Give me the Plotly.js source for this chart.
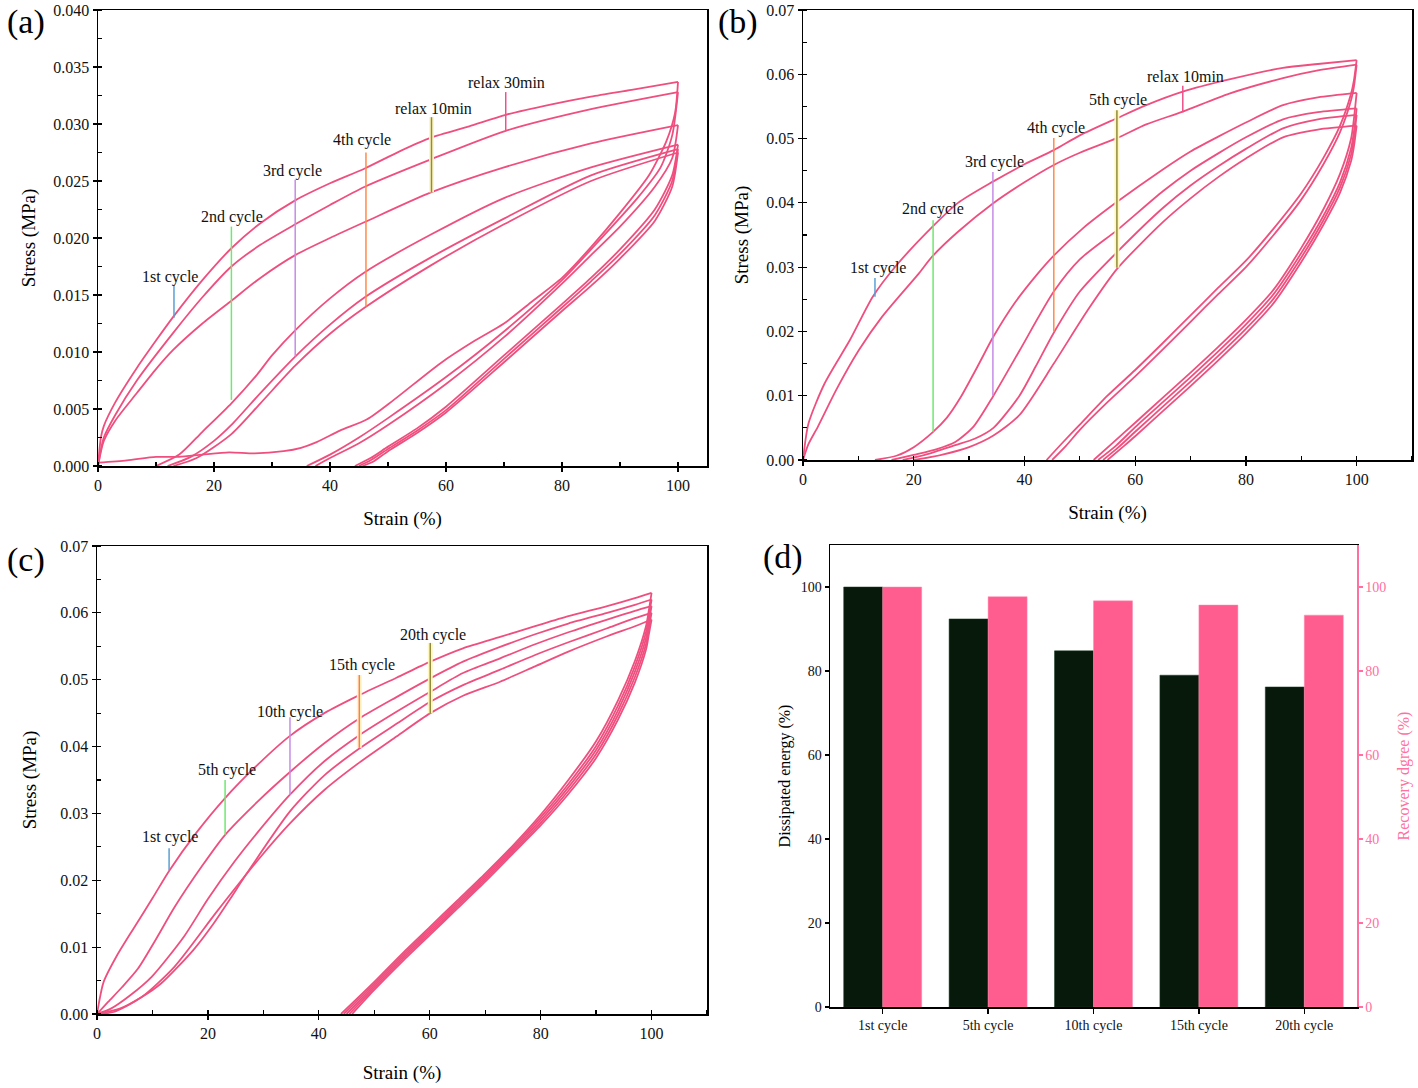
<!DOCTYPE html>
<html>
<head>
<meta charset="utf-8">
<script src="https://cdn.plot.ly/plotly-3.0.1.min.js"></script>
<style>html,body{margin:0;padding:0;background:#fff;}#chart{width:1418px;height:1088px;}</style>
</head>
<body>
<div id="chart"></div>
<script>
// ---------------- Panel (a) data ----------------
const aCyc1LoadStrain   = [0, 0.5, 1, 3, 6.7, 10, 13, 18, 23, 28, 34, 40, 46, 52, 57.4, 64, 70.3, 78, 85, 92, 100];
const aCyc1LoadStress   = [0, 0.0025, 0.0035, 0.0056, 0.0086, 0.0110, 0.0131, 0.0163, 0.0191, 0.0213, 0.0233, 0.0248, 0.0261, 0.0276, 0.0288, 0.0298, 0.0308, 0.0317, 0.0324, 0.0330, 0.0337];
const aCyc1UnloadStrain = [100, 99.5, 98, 95, 90, 85, 80, 75, 70, 65, 59, 51, 46.4, 41.7, 37.7, 35, 32, 27, 22.6, 18, 14, 10, 5, 0];
const aCyc1UnloadStress = [0.0337, 0.0310, 0.0285, 0.0255, 0.0222, 0.0192, 0.0165, 0.0145, 0.0125, 0.0110, 0.0090, 0.0058, 0.0041, 0.0031, 0.0021, 0.0016, 0.0013, 0.0011, 0.0012, 0.0010, 0.0008, 0.0008, 0.0005, 0.0003];
const aR30LoadStrain    = [0, 1, 3, 6.7, 13, 18, 23, 28, 34, 40, 46, 57.4, 70.3, 85, 100];
const aR30LoadStress    = [0, 0.0025, 0.0045, 0.0075, 0.0117, 0.0148, 0.0175, 0.0194, 0.0212, 0.0229, 0.0245, 0.0269, 0.0294, 0.0313, 0.0328];
const aR30UnloadStrain  = [100, 99, 97, 93, 85, 80, 70, 60, 50, 45, 40, 36];
const aR30UnloadStress  = [0.0328, 0.0290, 0.0262, 0.0235, 0.0190, 0.0163, 0.0118, 0.0078, 0.0042, 0.0025, 0.0010, 0];
const aR10LoadStrain    = [0, 1, 3, 6.7, 10, 13, 18, 23, 28, 34, 40, 46, 57.4, 70, 85, 100];
const aR10LoadStress    = [0, 0.0022, 0.0040, 0.0064, 0.0085, 0.0102, 0.0125, 0.0145, 0.0165, 0.0185, 0.0200, 0.0214, 0.0240, 0.0262, 0.0283, 0.0299];
const aR10UnloadStrain  = [100, 99, 96, 90, 85, 80, 70, 60, 50, 45, 40, 37.5];
const aR10UnloadStress  = [0.0299, 0.0270, 0.0245, 0.0210, 0.0185, 0.0160, 0.0113, 0.0072, 0.0036, 0.0020, 0.0007, 0];
const aCyc2LoadStrain   = [10, 14, 18, 23, 27.4, 30, 34, 40, 46, 57.4, 70, 85, 100];
const aCyc2LoadStress   = [0, 0.0010, 0.0030, 0.0055, 0.0080, 0.0097, 0.0119, 0.0147, 0.0170, 0.0203, 0.0235, 0.0262, 0.0282];
const aCyc2UnloadStrain = [100, 99, 96, 90, 85, 80, 70, 60, 55, 50, 47, 44.3];
const aCyc2UnloadStress = [0.0282, 0.0255, 0.0225, 0.0190, 0.0165, 0.0142, 0.0097, 0.0052, 0.0033, 0.0017, 0.0007, 0];
const aCyc3LoadStrain   = [12, 16, 20, 23, 28, 34, 40, 46, 57.4, 70, 85, 100];
const aCyc3LoadStress   = [0, 0.0008, 0.0022, 0.0036, 0.0064, 0.0096, 0.0124, 0.0148, 0.0183, 0.0217, 0.0255, 0.0278];
const aCyc3UnloadStrain = [100, 99, 96, 90, 85, 80, 70, 60, 55, 50, 47, 45];
const aCyc3UnloadStress = [0.0278, 0.0250, 0.0220, 0.0186, 0.0162, 0.0139, 0.0094, 0.0049, 0.0031, 0.0015, 0.0005, 0];
const aCyc4LoadStrain   = [13, 17, 23, 28, 34, 40, 46, 57.4, 70, 85, 100];
const aCyc4LoadStress   = [0, 0.0007, 0.0028, 0.0055, 0.0088, 0.0116, 0.0139, 0.0176, 0.0212, 0.0250, 0.0275];
const aCyc4UnloadStrain = [100, 99, 96, 90, 85, 80, 70, 60, 55, 50, 47.5, 45.6];
const aCyc4UnloadStress = [0.0275, 0.0245, 0.0215, 0.0182, 0.0158, 0.0136, 0.0091, 0.0047, 0.0029, 0.0013, 0.0004, 0];
const aLabelText   = ['1st cycle', '2nd cycle', '3rd cycle', '4th cycle', 'relax 10min', 'relax 30min'];
const aLabelX      = [12.4, 23.1, 33.6, 45.5, 57.9, 70.5];
const aLabelY      = [0.0166, 0.0218, 0.0259, 0.0286, 0.0314, 0.0336];
const aMarkX       = [13.1, 23, 34, 46.2, 57.5, 70.3];
const aMarkTop     = [0.0159, 0.0210, 0.0251, 0.0275, 0.0306, 0.0328];
const aMarkBottom  = [0.0130, 0.0058, 0.0096, 0.0140, 0.0240, 0.0294];
const aMarkColor   = ['#5b9fd4', '#6fe86f', '#c58ce6', '#ff8a4c', '#8f8c3c', '#f0508a'];
const aMarkGlow    = [false, false, false, false, true, false];

// ---------------- Panel (b) data ----------------
const bCyc1LoadStrain   = [0, 1, 3.9, 8.5, 12.6, 16.7, 23.4, 28, 34.3, 40, 45.3, 50, 56.8, 62, 68.6, 77, 86.7, 93, 100];
const bCyc1LoadStress   = [0, 0.0057, 0.0119, 0.0187, 0.0254, 0.0301, 0.0363, 0.0400, 0.0433, 0.0460, 0.0482, 0.0505, 0.0532, 0.0552, 0.0573, 0.0592, 0.0610, 0.0616, 0.0622];
const bCyc1UnloadStrain = [100, 99.5, 99, 97, 94, 90, 85, 80, 75, 70, 65, 60, 55, 50, 47, 44];
const bCyc1UnloadStress = [0.0622, 0.0590, 0.0570, 0.0520, 0.0470, 0.0415, 0.0360, 0.0310, 0.0268, 0.0225, 0.0182, 0.0140, 0.0100, 0.0055, 0.0028, 0];
const bR10LoadStrain    = [0, 1, 2.7, 6, 10.1, 14.3, 20.9, 23.4, 28, 34.3, 40, 45.3, 50, 56.8, 62, 68.6, 77, 86.7, 93, 100];
const bR10LoadStress    = [0, 0.0025, 0.0052, 0.0109, 0.0171, 0.0223, 0.0290, 0.0317, 0.0355, 0.0399, 0.0432, 0.0459, 0.0478, 0.0501, 0.0522, 0.0542, 0.0570, 0.0594, 0.0606, 0.0615];
const bR10UnloadStrain  = [100, 99.5, 99, 97, 94, 90, 85, 80, 75, 70, 65, 60, 55, 50, 47.5, 45];
const bR10UnloadStress  = [0.0615, 0.0580, 0.0560, 0.0510, 0.0460, 0.0405, 0.0350, 0.0300, 0.0258, 0.0215, 0.0172, 0.0130, 0.0090, 0.0047, 0.0022, 0];
const bCyc2LoadStrain   = [13, 17, 20, 23.4, 26, 28.5, 31.5, 34.4, 38.3, 42.4, 45.3, 50.5, 56.8, 65, 70, 75, 80, 86.7, 93, 100];
const bCyc2LoadStress   = [0, 0.0007, 0.0020, 0.0043, 0.0066, 0.0098, 0.0145, 0.0192, 0.0245, 0.0290, 0.0318, 0.0360, 0.0402, 0.0452, 0.0480, 0.0503, 0.0525, 0.0552, 0.0564, 0.0571];
const bCyc2UnloadStrain = [100, 99.5, 99, 97, 94, 90, 85, 80, 75, 70, 65, 60, 56, 52.5];
const bCyc2UnloadStress = [0.0571, 0.0530, 0.0500, 0.0445, 0.0390, 0.0330, 0.0265, 0.0218, 0.0176, 0.0136, 0.0097, 0.0058, 0.0027, 0];
const bCyc3LoadStrain   = [16, 20, 24.2, 27.5, 30.8, 34.4, 39.1, 45.3, 50, 56.8, 65, 70, 75, 80, 86.7, 93, 100];
const bCyc3LoadStress   = [0, 0.0008, 0.0017, 0.0028, 0.0052, 0.0100, 0.0170, 0.0262, 0.0312, 0.0358, 0.0418, 0.0450, 0.0477, 0.0502, 0.0530, 0.0541, 0.0547];
const bCyc3UnloadStrain = [100, 99.5, 99, 97, 94, 90, 85, 80, 75, 70, 65, 60, 56.5, 53.3];
const bCyc3UnloadStress = [0.0547, 0.0510, 0.0485, 0.0432, 0.0380, 0.0322, 0.0258, 0.0211, 0.0169, 0.0129, 0.0090, 0.0051, 0.0022, 0];
const bCyc4LoadStrain   = [18, 22, 27.5, 31, 34.4, 39.1, 42, 45.3, 50, 56.8, 65, 70, 75, 80, 86.7, 93, 100];
const bCyc4LoadStress   = [0, 0.0008, 0.0023, 0.0033, 0.0050, 0.0100, 0.0145, 0.0198, 0.0262, 0.0324, 0.0392, 0.0427, 0.0457, 0.0484, 0.0516, 0.0530, 0.0537];
const bCyc4UnloadStrain = [100, 99.5, 99, 97, 94, 90, 85, 80, 75, 70, 65, 60, 57, 54.2];
const bCyc4UnloadStress = [0.0537, 0.0500, 0.0475, 0.0424, 0.0373, 0.0315, 0.0251, 0.0204, 0.0162, 0.0122, 0.0083, 0.0044, 0.0020, 0];
const bCyc5LoadStrain   = [20, 25, 30, 34.4, 39.1, 45.3, 51.5, 56.8, 65, 70, 75, 80, 86.7, 93, 100];
const bCyc5LoadStress   = [0, 0.0008, 0.0020, 0.0038, 0.0070, 0.0150, 0.0234, 0.0298, 0.0370, 0.0407, 0.0440, 0.0469, 0.0502, 0.0514, 0.0520];
const bCyc5UnloadStrain = [100, 99.5, 99, 97, 94, 90, 85, 80, 75, 70, 65, 60, 58, 55];
const bCyc5UnloadStress = [0.0520, 0.0487, 0.0465, 0.0416, 0.0366, 0.0308, 0.0244, 0.0197, 0.0155, 0.0115, 0.0076, 0.0037, 0.0022, 0];
const bLabelText  = ['1st cycle', '2nd cycle', '3rd cycle', '4th cycle', '5th cycle', 'relax 10min'];
const bLabelX     = [13.5, 23.5, 34.5, 45.7, 56.9, 69];
const bLabelY     = [0.0299, 0.0390, 0.0464, 0.0516, 0.0560, 0.0596];
const bMarkX      = [13.0, 23.5, 34.3, 45.3, 56.7, 68.6];
const bMarkTop    = [0.0283, 0.0373, 0.0448, 0.0501, 0.0544, 0.0582];
const bMarkBottom = [0.0254, 0.0044, 0.0100, 0.0200, 0.0299, 0.0541];
const bMarkColor  = ['#5b9fd4', '#6fe86f', '#c58ce6', '#ff8a4c', '#8f8c3c', '#f0508a'];
const bMarkGlow   = [false, false, false, false, true, false];

// ---------------- Panel (c) data ----------------
const cCyc1LoadStrain   = [0, 1.2, 3.5, 6.6, 10, 13, 18, 23.1, 29, 34.8, 41, 47.3, 54, 60.1, 66, 72.7, 79, 85, 92, 97, 100];
const cCyc1LoadStress   = [0, 0.0048, 0.0086, 0.0128, 0.0173, 0.0214, 0.0272, 0.0323, 0.0373, 0.0416, 0.0450, 0.0477, 0.0503, 0.0527, 0.0547, 0.0564, 0.0580, 0.0595, 0.0610, 0.0622, 0.0630];
const cCyc5LoadStrain   = [0, 2, 4.5, 7.4, 10.5, 14, 19, 23.1, 29, 34.8, 41, 47.3, 54, 60.1, 66, 72.7, 79, 85, 92, 97, 100];
const cCyc5LoadStress   = [0, 0.0018, 0.0040, 0.0068, 0.0110, 0.0160, 0.0222, 0.0268, 0.0318, 0.0362, 0.0405, 0.0442, 0.0474, 0.0502, 0.0527, 0.0549, 0.0568, 0.0584, 0.0600, 0.0612, 0.0620];
const cCyc10LoadStrain  = [0, 2.5, 6, 9.9, 15.7, 20, 24.8, 29, 34.8, 41, 47.3, 54, 60.1, 66, 72.7, 79, 85, 92, 97, 100];
const cCyc10LoadStress  = [0, 0.0008, 0.0028, 0.0056, 0.0116, 0.0172, 0.0228, 0.0272, 0.0328, 0.0378, 0.0417, 0.0452, 0.0482, 0.0510, 0.0532, 0.0553, 0.0571, 0.0590, 0.0603, 0.0610];
const cCyc15LoadStrain  = [0, 4.1, 8, 11.6, 17.4, 21, 24, 27, 34.8, 41, 47.3, 54, 60.1, 66, 72.7, 79, 85, 92, 97, 100];
const cCyc15LoadStress  = [0, 0.0008, 0.0025, 0.0046, 0.0096, 0.0135, 0.0172, 0.0210, 0.0303, 0.0357, 0.0397, 0.0434, 0.0467, 0.0492, 0.0515, 0.0537, 0.0556, 0.0577, 0.0592, 0.0600];
const cCyc20LoadStrain  = [0, 3, 8, 14, 21.5, 29, 34.8, 41, 47.3, 54, 60.1, 66, 72.7, 79, 85, 92, 97, 100];
const cCyc20LoadStress  = [0, 0.0003, 0.0025, 0.0071, 0.0152, 0.0230, 0.0285, 0.0335, 0.0376, 0.0415, 0.0450, 0.0476, 0.0497, 0.0520, 0.0542, 0.0565, 0.0580, 0.0590];
const cCyc1UnloadStrain  = [100, 99.5, 99, 97, 94, 90, 85, 80, 75, 70, 65, 60, 55, 50, 44];
const cCyc1UnloadStress  = [0.0630, 0.0603, 0.0580, 0.0528, 0.0470, 0.0408, 0.0350, 0.0298, 0.0252, 0.0210, 0.0170, 0.0130, 0.0090, 0.0048, 0];
const cCyc5UnloadStrain  = [100, 99.5, 99, 97, 94, 90, 85, 80, 75, 70, 65, 60, 55, 50, 44.5];
const cCyc5UnloadStress  = [0.0620, 0.0594, 0.0571, 0.0520, 0.0462, 0.0401, 0.0344, 0.0294, 0.0249, 0.0207, 0.0167, 0.0127, 0.0087, 0.0045, 0];
const cCyc10UnloadStrain = [100, 99.5, 99, 97, 94, 90, 85, 80, 75, 70, 65, 60, 55, 50, 45];
const cCyc10UnloadStress = [0.0610, 0.0585, 0.0562, 0.0512, 0.0455, 0.0395, 0.0339, 0.0290, 0.0246, 0.0204, 0.0164, 0.0124, 0.0084, 0.0042, 0];
const cCyc15UnloadStrain = [100, 99.5, 99, 97, 94, 90, 85, 80, 75, 70, 65, 60, 55, 50, 45.5];
const cCyc15UnloadStress = [0.0600, 0.0576, 0.0553, 0.0504, 0.0448, 0.0389, 0.0334, 0.0286, 0.0243, 0.0201, 0.0161, 0.0121, 0.0081, 0.0039, 0];
const cCyc20UnloadStrain = [100, 99.5, 99, 97, 94, 90, 85, 80, 75, 70, 65, 60, 55, 50, 46];
const cCyc20UnloadStress = [0.0590, 0.0567, 0.0545, 0.0496, 0.0441, 0.0383, 0.0329, 0.0282, 0.0240, 0.0198, 0.0158, 0.0118, 0.0078, 0.0036, 0];
const cLabelText  = ['1st cycle', '5th cycle', '10th cycle', '15th cycle', '20th cycle'];
const cLabelX     = [13.2, 23.5, 34.8, 47.8, 60.5];
const cLabelY     = [0.0265, 0.0365, 0.0452, 0.0522, 0.0567];
const cMarkX      = [13.0, 23.1, 34.8, 47.3, 60.1];
const cMarkTop    = [0.0248, 0.0350, 0.0444, 0.0507, 0.0555];
const cMarkBottom = [0.0215, 0.0268, 0.0328, 0.0398, 0.0450];
const cMarkColor  = ['#5b9fd4', '#6fe86f', '#c58ce6', '#ff7a5c', '#8f8c3c'];
const cMarkGlow   = [false, false, false, true, true];

// ---------------- Panel (d) data ----------------
const dCategories = ['1st cycle', '5th cycle', '10th cycle', '15th cycle', '20th cycle'];
const dDissipated = [100, 92.4, 84.8, 79.0, 76.2];
const dRecovery   = [100, 97.7, 96.7, 95.7, 93.3];

// ---------------- Styling ----------------
const CURVE = '#ef4f7f';
const SERIF = 'Liberation Serif, Times New Roman, serif';
const DARK = '#07190a';
const PINK = '#ff5c8f';
const RIGHTPINK = '#ff6f9f';

const traces = [];
function curve(xs, ys, xa, ya) {
  traces.push({type: 'scatter', mode: 'lines', x: xs, y: ys, xaxis: xa, yaxis: ya,
    line: {color: CURVE, width: 1.8, shape: 'spline', smoothing: 0.7}, hoverinfo: 'skip', showlegend: false});
}
function marks(xs, tops, bottoms, colors, glows, xa, ya) {
  for (let i = 0; i < xs.length; i++) {
    if (glows[i]) {
      traces.push({type: 'scatter', mode: 'lines', x: [xs[i], xs[i]], y: [tops[i], bottoms[i]], xaxis: xa, yaxis: ya,
        line: {color: 'rgba(255,245,190,0.95)', width: 5}, hoverinfo: 'skip', showlegend: false});
    }
    traces.push({type: 'scatter', mode: 'lines', x: [xs[i], xs[i]], y: [tops[i], bottoms[i]], xaxis: xa, yaxis: ya,
      line: {color: colors[i], width: 1.5}, hoverinfo: 'skip', showlegend: false});
  }
}

// (a)
[[aCyc1LoadStrain, aCyc1LoadStress], [aCyc1UnloadStrain, aCyc1UnloadStress],
 [aR30LoadStrain, aR30LoadStress], [aR30UnloadStrain, aR30UnloadStress],
 [aR10LoadStrain, aR10LoadStress], [aR10UnloadStrain, aR10UnloadStress],
 [aCyc2LoadStrain, aCyc2LoadStress], [aCyc2UnloadStrain, aCyc2UnloadStress],
 [aCyc3LoadStrain, aCyc3LoadStress], [aCyc3UnloadStrain, aCyc3UnloadStress],
 [aCyc4LoadStrain, aCyc4LoadStress], [aCyc4UnloadStrain, aCyc4UnloadStress]
].forEach(p => curve(p[0], p[1], 'x', 'y'));
marks(aMarkX, aMarkTop, aMarkBottom, aMarkColor, aMarkGlow, 'x', 'y');

// (b)
[[bCyc1LoadStrain, bCyc1LoadStress], [bCyc1UnloadStrain, bCyc1UnloadStress],
 [bR10LoadStrain, bR10LoadStress], [bR10UnloadStrain, bR10UnloadStress],
 [bCyc2LoadStrain, bCyc2LoadStress], [bCyc2UnloadStrain, bCyc2UnloadStress],
 [bCyc3LoadStrain, bCyc3LoadStress], [bCyc3UnloadStrain, bCyc3UnloadStress],
 [bCyc4LoadStrain, bCyc4LoadStress], [bCyc4UnloadStrain, bCyc4UnloadStress],
 [bCyc5LoadStrain, bCyc5LoadStress], [bCyc5UnloadStrain, bCyc5UnloadStress]
].forEach(p => curve(p[0], p[1], 'x2', 'y2'));
marks(bMarkX, bMarkTop, bMarkBottom, bMarkColor, bMarkGlow, 'x2', 'y2');

// (c)
[[cCyc1LoadStrain, cCyc1LoadStress], [cCyc1UnloadStrain, cCyc1UnloadStress],
 [cCyc5LoadStrain, cCyc5LoadStress], [cCyc5UnloadStrain, cCyc5UnloadStress],
 [cCyc10LoadStrain, cCyc10LoadStress], [cCyc10UnloadStrain, cCyc10UnloadStress],
 [cCyc15LoadStrain, cCyc15LoadStress], [cCyc15UnloadStrain, cCyc15UnloadStress],
 [cCyc20LoadStrain, cCyc20LoadStress], [cCyc20UnloadStrain, cCyc20UnloadStress]
].forEach(p => curve(p[0], p[1], 'x3', 'y3'));
marks(cMarkX, cMarkTop, cMarkBottom, cMarkColor, cMarkGlow, 'x3', 'y3');

// (d)
traces.push({type: 'bar', x: dCategories, y: dDissipated, xaxis: 'x4', yaxis: 'y4',
  marker: {color: DARK, line: {color: '#1d3a24', width: 0.5}}, width: 0.37, offset: -0.37, showlegend: false, hoverinfo: 'skip'});
traces.push({type: 'bar', x: dCategories, y: dRecovery, xaxis: 'x4', yaxis: 'y5',
  marker: {color: PINK, line: {color: '#ff8ab0', width: 0.5}}, width: 0.37, offset: 0, showlegend: false, hoverinfo: 'skip'});

// ---------------- Layout ----------------
const W = 1418, H = 1088;
const px = v => v / W;
const py = v => 1 - v / H;

function ax(o) {
  return Object.assign({
    showline: true, linecolor: '#000', linewidth: 1.5, mirror: true,
    ticks: 'outside', ticklen: 4, tickwidth: 1.2, tickcolor: '#000',
    showgrid: false, zeroline: false, fixedrange: true,
    tickfont: {family: SERIF, size: 16, color: '#111'}
  }, o);
}
const titleFont = {family: SERIF, size: 19, color: '#000'};
const strainTicks = [0, 20, 40, 60, 80, 100];

const annotations = [];
function labels(texts, xs, ys, xa, ya) {
  texts.forEach((t, i) => annotations.push({text: t, x: xs[i], y: ys[i], xref: xa, yref: ya,
    showarrow: false, xanchor: 'center', yanchor: 'middle', font: {family: SERIF, size: 16, color: '#111'}}));
}
labels(aLabelText, aLabelX, aLabelY, 'x', 'y');
labels(bLabelText, bLabelX, bLabelY, 'x2', 'y2');
labels(cLabelText, cLabelX, cLabelY, 'x3', 'y3');
[['(a)', 26, 22], ['(b)', 738, 22], ['(c)', 26, 560], ['(d)', 783, 557]].forEach(p => annotations.push({
  text: p[0], x: px(p[1]), y: py(p[2]), xref: 'paper', yref: 'paper', showarrow: false,
  xanchor: 'center', yanchor: 'middle', font: {family: SERIF, size: 34, color: '#000'}}));

const layout = {
  width: W, height: H, margin: {l: 0, r: 0, t: 0, b: 0},
  paper_bgcolor: '#fff', plot_bgcolor: '#fff', showlegend: false,
  barmode: 'overlay',
  xaxis: ax({domain: [px(98), px(707)], range: [0, 105], tickvals: strainTicks, anchor: 'y',
    minor: {dtick: 10, tick0: 0, ticks: 'inside', ticklen: 4, tickcolor: '#000'},
    title: {text: 'Strain (%)', font: titleFont, standoff: 19}}),
  yaxis: ax({domain: [py(466), py(10)], range: [0, 0.04], dtick: 0.005, tickformat: '.3f', anchor: 'x',
    minor: {dtick: 0.0025, tick0: 0, ticks: 'inside', ticklen: 4, tickcolor: '#000'},
    title: {text: 'Stress (MPa)', font: titleFont, standoff: 12}}),
  xaxis2: ax({domain: [px(803), px(1412)], range: [0, 110], tickvals: strainTicks, anchor: 'y2',
    minor: {dtick: 10, tick0: 0, ticks: 'inside', ticklen: 4, tickcolor: '#000'},
    title: {text: 'Strain (%)', font: titleFont, standoff: 19}}),
  yaxis2: ax({domain: [py(460), py(10)], range: [0, 0.07], dtick: 0.01, tickformat: '.2f', anchor: 'x2',
    minor: {dtick: 0.005, tick0: 0, ticks: 'inside', ticklen: 4, tickcolor: '#000'},
    title: {text: 'Stress (MPa)', font: titleFont, standoff: 12}}),
  xaxis3: ax({domain: [px(97), px(707)], range: [0, 110], tickvals: strainTicks, anchor: 'y3',
    minor: {dtick: 10, tick0: 0, ticks: 'inside', ticklen: 4, tickcolor: '#000'},
    title: {text: 'Strain (%)', font: titleFont, standoff: 25}}),
  yaxis3: ax({domain: [py(1014), py(546)], range: [0, 0.07], dtick: 0.01, tickformat: '.2f', anchor: 'x3',
    minor: {dtick: 0.005, tick0: 0, ticks: 'inside', ticklen: 4, tickcolor: '#000'},
    title: {text: 'Stress (MPa)', font: titleFont, standoff: 18}}),
  xaxis4: ax({domain: [px(830), px(1357)], range: [-0.5, 4.5], type: 'category', anchor: 'y4',
    ticklen: 5, tickfont: {family: SERIF, size: 14, color: '#111'}}),
  yaxis4: ax({domain: [py(1007), py(545)], range: [0, 110], tickvals: [0, 20, 40, 60, 80, 100], anchor: 'x4',
    mirror: false, tickfont: {family: SERIF, size: 14, color: '#111'},
    title: {text: 'Dissipated energy (%)', font: {family: SERIF, size: 16, color: '#000'}, standoff: 6}}),
  yaxis5: ax({domain: [py(1007), py(545)], range: [0, 110], tickvals: [0, 20, 40, 60, 80, 100], anchor: 'x4',
    overlaying: 'y4', side: 'right', mirror: false, linecolor: RIGHTPINK, tickcolor: RIGHTPINK,
    tickfont: {family: SERIF, size: 14, color: RIGHTPINK},
    title: {text: 'Recovery dgree (%)', font: {family: SERIF, size: 16, color: RIGHTPINK}, standoff: 12}}),
  annotations: annotations
};

Plotly.newPlot('chart', traces, layout, {displayModeBar: false, staticPlot: true});
</script>
</body>
</html>
